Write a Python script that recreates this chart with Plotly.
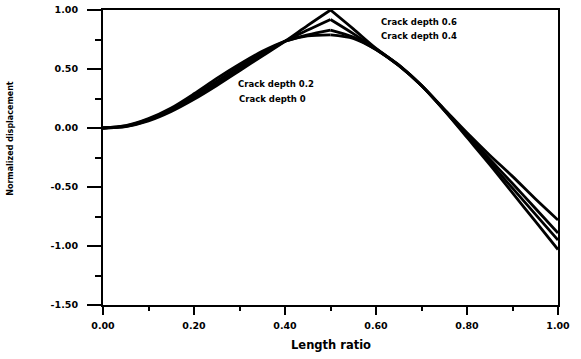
import plotly.graph_objects as go

# Length ratio sample points
x_ratio = [0.00, 0.05, 0.10, 0.15, 0.20, 0.25, 0.30, 0.35, 0.40, 0.45, 0.50,
           0.55, 0.60, 0.65, 0.70, 0.75, 0.80, 0.85, 0.90, 0.95, 1.00]

# Normalized displacement for each crack depth
crack_0 = [0.00, 0.02, 0.08, 0.17, 0.29, 0.42, 0.54, 0.65, 0.735, 0.78, 0.79,
           0.76, 0.665, 0.53, 0.36, 0.15, -0.08, -0.31, -0.55, -0.79, -1.03]
crack_02 = [0.00, 0.017, 0.073, 0.16, 0.272, 0.397, 0.52, 0.635, 0.735, 0.79, 0.83,
            0.77, 0.665, 0.53, 0.36, 0.15, -0.07, -0.29, -0.51, -0.73, -0.95]
crack_04 = [0.00, 0.014, 0.066, 0.15, 0.257, 0.378, 0.50, 0.62, 0.735, 0.83, 0.92,
            0.80, 0.67, 0.53, 0.36, 0.155, -0.055, -0.265, -0.47, -0.68, -0.89]
crack_06 = [0.00, 0.012, 0.06, 0.14, 0.243, 0.36, 0.485, 0.61, 0.735, 0.87, 1.00,
            0.84, 0.675, 0.535, 0.36, 0.16, -0.04, -0.23, -0.41, -0.60, -0.78]

series = [crack_0, crack_02, crack_04, crack_06]
crack_pos_index = 10  # crack located at length ratio 0.5

labels = ["Crack depth 0.6", "Crack depth 0.4", "Crack depth 0.2", "Crack depth 0"]
label_x = [0.606, 0.606, 0.292, 0.294]
label_y = [0.90, 0.78, 0.37, 0.25]

x_ticks = [0.0, 0.2, 0.4, 0.6, 0.8, 1.0]
x_ticktext = ["0.00", "0.20", "0.40", "0.60", "0.80", "1.00"]
y_ticks = [-1.5, -1.0, -0.5, 0.0, 0.5, 1.0]
y_ticktext = ["-1.50", "-1.00", "-0.50", "0.00", "0.50", "1.00"]

FONT = "DejaVu Sans"

fig = go.Figure()
for ys in series:
    for seg in (slice(0, crack_pos_index + 1), slice(crack_pos_index, None)):
        fig.add_trace(go.Scatter(
            x=x_ratio[seg], y=ys[seg], mode="lines",
            line=dict(color="black", width=2.8, shape="spline", smoothing=0.8),
            showlegend=False, hoverinfo="skip"))

for t, lx, ly in zip(labels, label_x, label_y):
    fig.add_annotation(x=lx, y=ly, xref="x", yref="y", text="<b>" + t + "</b>",
                       showarrow=False, xanchor="left", yanchor="middle",
                       font=dict(family=FONT, size=8.5, color="black"))

fig.add_annotation(x=-0.204, y=-0.09, xref="paper", yref="y",
                   text="<b>Normalized displacement</b>", textangle=-90,
                   showarrow=False, xanchor="center", yanchor="middle",
                   font=dict(family=FONT, size=8, color="black"))

fig.add_annotation(x=0.5, y=-0.136, xref="paper", yref="paper",
                   text="<b>Length ratio</b>",
                   showarrow=False, xanchor="center", yanchor="middle",
                   font=dict(family=FONT, size=11.5, color="black"))

fig.update_layout(
    width=581, height=359,
    margin=dict(l=103, r=23, t=10, b=54, autoexpand=False),
    paper_bgcolor="white", plot_bgcolor="white",
    xaxis=dict(
        range=[0, 1], tickvals=x_ticks, ticktext=x_ticktext, automargin=False,
        ticks="outside", ticklen=8, tickwidth=2, tickcolor="black",
        ticklabelstandoff=2,
        minor=dict(dtick=0.1, ticks="outside", ticklen=4, tickwidth=2, tickcolor="black"),
        showline=True, linewidth=2.2, linecolor="black", mirror=True,
        showgrid=False, zeroline=False,
        tickfont=dict(family=FONT, size=9.5, color="black", weight="bold"),
    ),
    yaxis=dict(
        range=[-1.5, 1.0], tickvals=y_ticks, ticktext=y_ticktext, automargin=False,
        ticks="outside", ticklen=14, tickwidth=2, tickcolor="black",
        ticklabelstandoff=7,
        minor=dict(dtick=0.25, ticks="outside", ticklen=6, tickwidth=2, tickcolor="black"),
        showline=True, linewidth=2.2, linecolor="black", mirror=True,
        showgrid=False, zeroline=False,
        tickfont=dict(family=FONT, size=9.5, color="black", weight="bold"),
    ),
)

fig.write_html("out.html")
